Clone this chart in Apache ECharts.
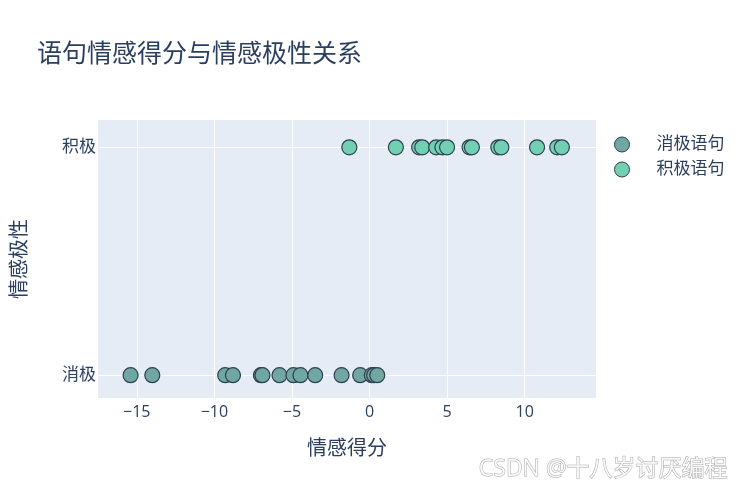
<!DOCTYPE html>
<html>
<head>
<meta charset="utf-8">
<script src="https://cdn.jsdelivr.net/npm/echarts@6/dist/echarts.min.js"></script>
<style>
  html, body { margin: 0; padding: 0; background: #fff; }
  #chart { width: 747px; height: 496px; }
</style>
</head>
<body>
<div id="chart"></div>
<script>
const FONT = "'Open Sans', 'Noto Sans CJK SC', sans-serif";

// 情感得分
const negScores = [-15.4, -14.0, -9.3, -8.8, -7.0, -6.9, -5.8, -4.9, -4.45, -3.5, -1.8, -0.6, 0.15, 0.3, 0.5];
const posScores = [-1.3, 1.7, 3.2, 3.4, 4.3, 4.7, 5.0, 6.45, 6.6, 8.3, 8.5, 10.8, 12.1, 12.4];
const polarityLabels = ["消极", "积极"];
const xTicks = [-15, -10, -5, 0, 5, 10];
const seriesNames = ["消极语句", "积极语句"];

const chart = echarts.init(document.getElementById("chart"));

function minus(v) {
  return String(v).replace("-", "\u2212");
}

chart.setOption({
  backgroundColor: "#fff",
  textStyle: { fontFamily: FONT },
  title: {
    text: "语句情感得分与情感极性关系",
    left: 32, top: 37,
    textStyle: { fontFamily: FONT, fontSize: 25, fontWeight: "normal", color: "#2a3f5f" },
  },
  legend: {
    orient: "vertical",
    left: 609, top: 131,
    itemWidth: 15, itemHeight: 15, itemGap: 8,
    icon: "circle",
    data: seriesNames,
    itemStyle: { borderWidth: 1 },
    textStyle: { fontFamily: FONT, fontSize: 17, color: "#2a3f5f", padding: [0, 0, 0, 22] },
  },
  grid: { left: 98, right: 151, top: 120, bottom: 98, show: true, backgroundColor: "#e5ecf6", borderWidth: 0 },
  xAxis: {
    type: "value",
    min: -17.5, max: 14.6,
    name: "情感得分",
    nameLocation: "middle",
    nameGap: 41,
    nameTextStyle: { fontFamily: FONT, fontSize: 20, color: "#2a3f5f" },
    axisLine: { show: false },
    axisTick: { show: false, customValues: xTicks },
    axisLabel: { customValues: xTicks, formatter: minus, fontFamily: FONT, fontSize: 16, color: "#2a3f5f", margin: 6 },
    splitLine: { show: true, lineStyle: { color: "#fff", width: 1 } },
  },
  yAxis: {
    type: "value",
    min: -0.1, max: 1.12,
    name: "情感极性",
    nameLocation: "middle",
    nameGap: 68,
    nameTextStyle: { fontFamily: FONT, fontSize: 20, color: "#2a3f5f" },
    axisLine: { show: false },
    axisTick: { show: false, customValues: [0, 1] },
    axisLabel: {
      customValues: [0, 1],
      formatter: (v) => polarityLabels[Math.round(v)],
      fontFamily: FONT, fontSize: 17, color: "#2a3f5f", margin: 2,
    },
    splitLine: { show: true, lineStyle: { color: "#fff", width: 1 } },
  },
  series: [
    {
      name: seriesNames[0],
      type: "scatter",
      symbolSize: 15,
      itemStyle: { color: "#70a7a2", borderColor: "#2e3f4f", borderWidth: 1.2, opacity: 1 },
      data: negScores.map((s) => [s, 0]),
    },
    {
      name: seriesNames[1],
      type: "scatter",
      symbolSize: 15,
      itemStyle: { color: "#72d0b2", borderColor: "#2e3f4f", borderWidth: 1.2, opacity: 1 },
      data: posScores.map((s) => [s, 1]),
    },
  ],
  graphic: [
    {
      type: "text",
      right: 19, top: 457,
      style: {
        text: "CSDN @十八岁讨厌编程", fontFamily: FONT, fontSize: 23,
        fill: "rgba(255,255,255,0.85)", stroke: "rgba(110,110,110,0.6)", lineWidth: 1,
      },
    },
  ],
});
</script>
</body>
</html>
